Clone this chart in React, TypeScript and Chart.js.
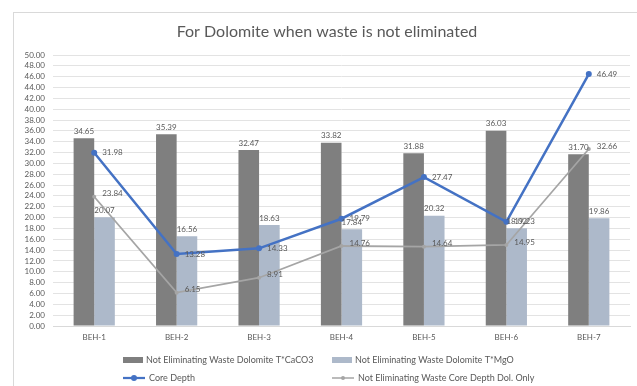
import React, { useEffect, useRef } from "react";
import { Chart, registerables } from "chart.js";

Chart.register(...registerables);

const categories = ["BEH-1", "BEH-2", "BEH-3", "BEH-4", "BEH-5", "BEH-6", "BEH-7"];
const cacoValues = [34.65, 35.39, 32.47, 33.82, 31.88, 36.03, 31.7];
const mgoValues = [20.07, 16.56, 18.63, 17.84, 20.32, 18.02, 19.86];
const coreDepth = [31.98, 13.28, 14.33, 19.79, 27.47, 19.23, 46.49];
const coreDepthDol = [23.84, 6.15, 8.91, 14.76, 14.64, 14.95, 32.66];
const yTicks = { min: 0, max: 50, step: 2 };

const seriesNames = [
  "Not Eliminating Waste Dolomite T*CaCO3",
  "Not Eliminating Waste Dolomite T*MgO",
  "Core Depth",
  "Not Eliminating Waste Core Depth Dol. Only",
];
const titleText = "For Dolomite when waste is not eliminated";

const FONT = "Lato, 'Liberation Sans', sans-serif";
const TEXT = "#595959";
const DARK = "#7f7f7f";
const LIGHT = "#adb9ca";
const BLUE = "#4472c4";
const GREY = "#a5a5a5";

const framePlugin = {
  id: "frame",
  beforeDraw(chart: any) {
    const { ctx, width, height } = chart;
    ctx.save();
    ctx.fillStyle = "#ffffff";
    ctx.fillRect(0, 0, width, height);
    ctx.strokeStyle = "#d9d9d9";
    ctx.lineWidth = 1;
    ctx.strokeRect(13.5, 12.5, width, height);
    ctx.restore();
  },
  afterDraw(chart: any) {
    const { ctx } = chart;
    ctx.save();
    // title
    ctx.fillStyle = TEXT;
    ctx.font = `16px ${FONT}`;
    ctx.textAlign = "center";
    ctx.textBaseline = "middle";
    ctx.fillText(titleText, 327, 32);

    // legend, two items per row
    ctx.font = `9px ${FONT}`;
    ctx.textAlign = "left";
    const rows = [360, 378];
    const cols = [123, 332];
    const drawItem = (i: number, x: number, y: number) => {
      if (i < 2) {
        ctx.fillStyle = i === 0 ? DARK : LIGHT;
        ctx.fillRect(x, y - 3, 20, 6);
        ctx.fillStyle = TEXT;
        ctx.fillText(seriesNames[i], x + 23, y);
      } else {
        const c = i === 2 ? BLUE : GREY;
        ctx.strokeStyle = c;
        ctx.lineWidth = i === 2 ? 2.25 : 1.5;
        ctx.beginPath();
        ctx.moveTo(x, y);
        ctx.lineTo(x + 22, y);
        ctx.stroke();
        ctx.fillStyle = c;
        ctx.beginPath();
        ctx.arc(x + 11, y, i === 2 ? 3 : 2, 0, Math.PI * 2);
        ctx.fill();
        ctx.fillStyle = TEXT;
        ctx.fillText(seriesNames[i], x + 26, y);
      }
    };
    drawItem(0, cols[0], rows[0]);
    drawItem(1, cols[1], rows[0]);
    drawItem(2, cols[0], rows[1]);
    drawItem(3, cols[1], rows[1]);
    ctx.restore();
  },
};

const valueLabelPlugin = {
  id: "valueLabels",
  afterDatasetsDraw(chart: any) {
    const { ctx } = chart;
    ctx.save();
    ctx.font = `8px ${FONT}`;
    ctx.fillStyle = TEXT;
    chart.data.datasets.forEach((ds: any, di: number) => {
      const meta = chart.getDatasetMeta(di);
      meta.data.forEach((el: any, i: number) => {
        const txt = Number(ds.data[i]).toFixed(2);
        if (meta.type === "bar") {
          ctx.textAlign = "center";
          ctx.textBaseline = "bottom";
          ctx.fillText(txt, el.x, el.y - 3);
        } else {
          ctx.textAlign = "left";
          ctx.textBaseline = "middle";
          ctx.fillText(txt, el.x + 8, el.y - (di === 3 ? 3 : 0));
        }
      });
    });
    ctx.restore();
  },
};

export default function App() {
  const ref = useRef<HTMLCanvasElement>(null);

  useEffect(() => {
    if (!ref.current) return;
    const chart = new Chart(ref.current, {
      type: "bar",
      data: {
        labels: categories,
        datasets: [
          {
            type: "bar",
            label: seriesNames[0],
            data: cacoValues,
            backgroundColor: DARK,
            categoryPercentage: 0.5,
            barPercentage: 1.0,
            order: 2,
          },
          {
            type: "bar",
            label: seriesNames[1],
            data: mgoValues,
            backgroundColor: LIGHT,
            categoryPercentage: 0.5,
            barPercentage: 1.0,
            order: 2,
          },
          {
            type: "line",
            label: seriesNames[2],
            data: coreDepth,
            borderColor: BLUE,
            backgroundColor: BLUE,
            borderWidth: 2.5,
            pointRadius: 3,
            pointBackgroundColor: BLUE,
            pointBorderWidth: 0,
            tension: 0,
            order: 0,
          },
          {
            type: "line",
            label: seriesNames[3],
            data: coreDepthDol,
            borderColor: GREY,
            backgroundColor: GREY,
            borderWidth: 1.75,
            pointRadius: 2,
            pointBorderWidth: 0,
            tension: 0,
            order: 1,
          },
        ],
      },
      options: {
        animation: false,
        responsive: false,
        maintainAspectRatio: false,
        layout: { padding: { left: 0, right: 7, top: 55, bottom: 0 } },
        plugins: {
          legend: { display: false },
          title: { display: false },
          tooltip: { enabled: false },
        },
        scales: {
          x: {
            offset: true,
            grid: { display: false, drawTicks: false },
            border: { display: true, color: "#d9d9d9" },
            ticks: { color: TEXT, font: { family: FONT, size: 8 }, padding: 7 },
            afterFit(scale: any) {
              scale.height = 60;
            },
          },
          y: {
            min: yTicks.min,
            max: yTicks.max,
            grid: { color: "#e3e3e3", drawTicks: false },
            border: { display: false },
            ticks: {
              stepSize: yTicks.step,
              autoSkip: false,
              maxTicksLimit: 40,
              color: TEXT,
              font: { family: FONT, size: 8 },
              padding: 8,
              callback: (v: any) => Number(v).toFixed(2),
            },
            afterFit(scale: any) {
              scale.width = 53;
            },
          },
        },
      },
      plugins: [framePlugin, valueLabelPlugin],
    });
    return () => chart.destroy();
  }, []);

  return (
    <div style={{ position: "fixed", left: 0, top: 0, width: 637, height: 386, background: "#fff" }}>
      <canvas ref={ref} width={637} height={386} style={{ display: "block" }} />
    </div>
  );
}
